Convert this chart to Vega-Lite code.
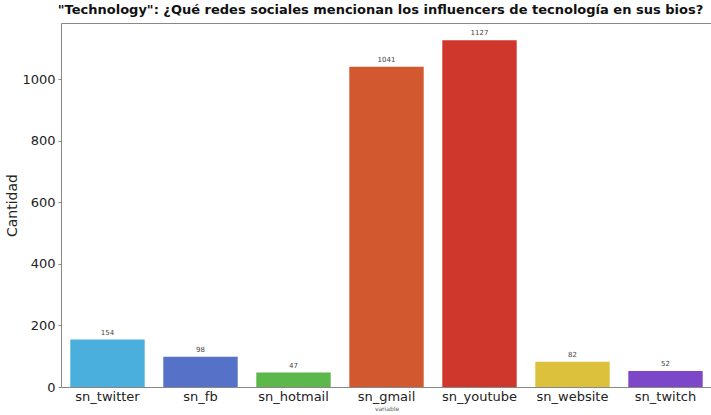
{
  "$schema": "https://vega.github.io/schema/vega-lite/v6.json",
  "width": 651,
  "height": 364,
  "autosize": {"type": "none"},
  "padding": {"left": 61, "top": 23, "right": 0, "bottom": 28},
  "background": "white",
  "config": {
    "view": {"stroke": "#888888", "strokeWidth": 1},
    "font": "DejaVu Sans"
  },
  "title": {
    "text": "\"Technology\": ¿Qué redes sociales mencionan los influencers de tecnología en sus bios?",
    "fontSize": 13,
    "fontWeight": "bold",
    "font": "DejaVu Sans",
    "color": "#111111",
    "anchor": "middle",
    "dx": -6,
    "offset": 6
  },
  "data": {
    "values": [
      {"variable": "sn_twitter", "value": 154},
      {"variable": "sn_fb", "value": 98},
      {"variable": "sn_hotmail", "value": 47},
      {"variable": "sn_gmail", "value": 1041},
      {"variable": "sn_youtube", "value": 1127},
      {"variable": "sn_website", "value": 82},
      {"variable": "sn_twitch", "value": 52}
    ]
  },
  "encoding": {
    "x": {
      "field": "variable",
      "type": "nominal",
      "sort": null,
      "scale": {"paddingInner": 0.2, "paddingOuter": 0.1},
      "axis": {
        "title": "variable",
        "titleFontSize": 6,
        "titleFontWeight": "normal",
        "titleColor": "#555555",
        "titlePadding": 2,
        "labelAngle": 0,
        "labelFontSize": 13,
        "labelColor": "#222222",
        "labelPadding": 3,
        "ticks": false,
        "domain": false
      }
    },
    "y": {
      "field": "value",
      "type": "quantitative",
      "scale": {"domain": [0, 1183], "nice": false},
      "axis": {
        "title": "Cantidad",
        "titleFontSize": 14,
        "titleFontWeight": "normal",
        "titleColor": "#222222",
        "titlePadding": 2,
        "values": [0, 200, 400, 600, 800, 1000],
        "format": "d",
        "labelFontSize": 13,
        "labelColor": "#222222",
        "labelPadding": 3,
        "tickColor": "#888888",
        "tickSize": 3,
        "domain": false,
        "grid": false
      }
    }
  },
  "layer": [
    {
      "mark": {"type": "bar"},
      "encoding": {
        "color": {
          "field": "variable",
          "type": "nominal",
          "sort": null,
          "scale": {
            "domain": ["sn_twitter", "sn_fb", "sn_hotmail", "sn_gmail", "sn_youtube", "sn_website", "sn_twitch"],
            "range": ["#4BAFDD", "#5672C8", "#5CB84A", "#D2592F", "#D0372C", "#DCC23C", "#7C48C8"]
          },
          "legend": null
        }
      }
    },
    {
      "mark": {"type": "text", "dy": -7, "fontSize": 7, "color": "#444444"},
      "encoding": {
        "text": {"field": "value", "type": "quantitative"}
      }
    }
  ]
}
